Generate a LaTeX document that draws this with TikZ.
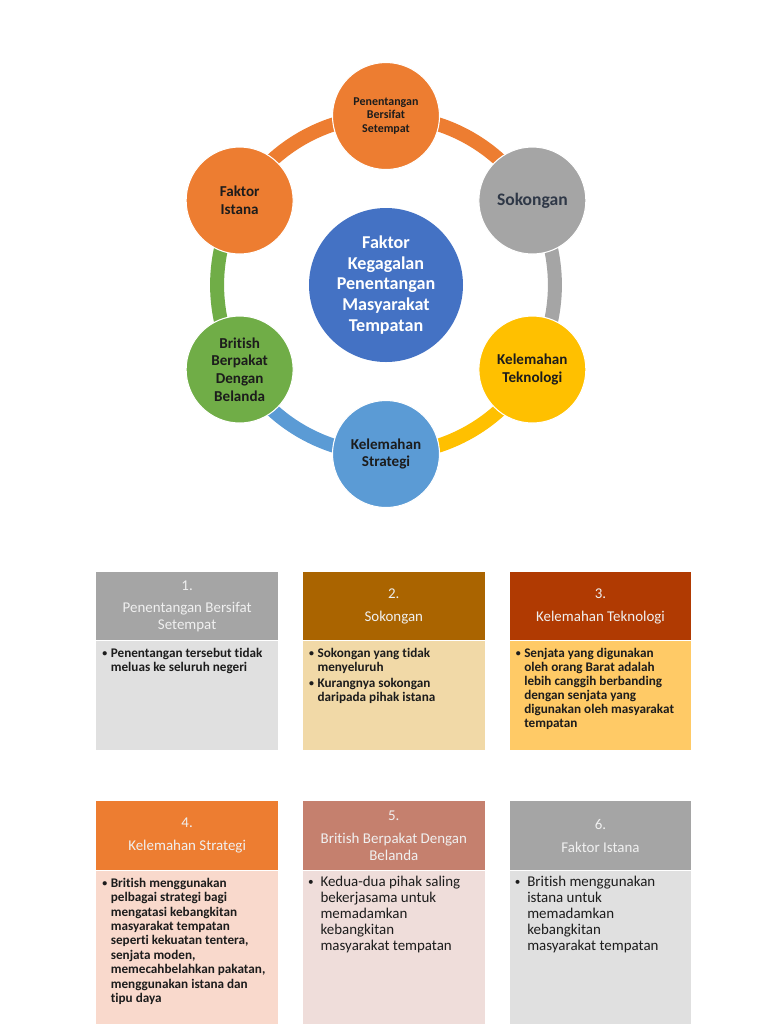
\documentclass[tikz,border=0pt]{standalone}
\usepackage{fontspec}
\setmainfont{Carlito}[Ligatures=NoCommon]
\usetikzlibrary{positioning,calc,backgrounds}
\definecolor{RingOrange}{HTML}{ED7D31}
\definecolor{RingGray}{HTML}{A5A5A5}
\definecolor{RingGold}{HTML}{FFC000}
\definecolor{RingBlue}{HTML}{5B9BD5}
\definecolor{RingGreen}{HTML}{70AD47}
\definecolor{HubBlue}{HTML}{4472C4}
\definecolor{InkDark}{HTML}{1C1C1C}
\definecolor{InkSlate}{HTML}{2F3847}
\definecolor{HeadGray}{HTML}{A5A5A5}
\definecolor{BodyGray}{HTML}{E0E0E0}
\definecolor{HeadBrown}{HTML}{AA6400}
\definecolor{BodyWheat}{HTML}{F1D9A7}
\definecolor{HeadRust}{HTML}{B03A02}
\definecolor{BodyGold}{HTML}{FFCA66}
\definecolor{HeadOrange}{HTML}{ED7D31}
\definecolor{BodyPeach}{HTML}{F9D9CC}
\definecolor{HeadRose}{HTML}{C5806E}
\definecolor{BodyRose}{HTML}{EFDDDA}
\newcommand{\bitem}{\makebox[1.7mm][l]{\raisebox{0.15ex}{\scalebox{0.75}{\textbullet}}}}
\newcommand{\bskip}{\hspace*{1.7mm}}
\newcommand{\pitem}{\makebox[2.5mm][l]{\raisebox{0.15ex}{\scalebox{0.75}{\textbullet}}}}
\newcommand{\pskip}{\hspace*{2.5mm}}

\begin{document}
\begin{tikzpicture}[node distance=4.9mm]
  \tikzstyle{bubble}=[circle,minimum size=21.4mm,inner sep=0pt,align=center,
    draw=white,line width=0.6pt,text=InkDark,
    font=\bfseries\fontsize{8.6}{10}\selectfont]
  \tikzstyle{hub}=[circle,fill=HubBlue,minimum size=30.8mm,inner sep=0pt,
    align=center,text=white,font=\bfseries\fontsize{10.3}{11.7}\selectfont]
  \tikzstyle{ring}=[line width=2.8mm,bend left=30,looseness=0.913]
  \tikzstyle{head}=[rectangle,minimum width=36.3mm,minimum height=13.6mm,
    inner sep=0pt,align=center,text=white!94!black,
    font=\fontsize{8.5}{9.6}\selectfont]
  \tikzstyle{body}=[rectangle,minimum width=36.3mm,inner sep=0pt]
  \tikzstyle{btext}=[inner sep=0pt,align=left,anchor=north west,text=InkDark,
    font=\bfseries\fontsize{7.5}{8}\selectfont]
  \tikzstyle{ptext}=[btext,font=\fontsize{8.5}{9.1}\selectfont]

  \useasboundingbox (0,0) rectangle (15.36,-20.48);

  % hub and the six factors
  \node[hub] (hub) at (7.72,-5.70) {Faktor\\Kegagalan\\Penentangan\\Masyarakat\\Tempatan};
  \node[bubble,fill=RingOrange,font=\bfseries\fontsize{6.8}{7.6}\selectfont]
    (pen) at ($(hub)+(90:3.38)$) {Penentangan\\Bersifat\\Setempat};
  \node[bubble,fill=RingGray,text=InkSlate,font=\bfseries\fontsize{10}{12}\selectfont]
    (sok) at ($(hub)+(30:3.38)$) {Sokongan};
  \node[bubble,fill=RingGold] (tek) at ($(hub)+(-30:3.38)$) {Kelemahan\\Teknologi};
  \node[bubble,fill=RingBlue] (strat) at ($(hub)+(-90:3.38)$) {Kelemahan\\Strategi};
  \node[bubble,fill=RingGreen] (brit) at ($(hub)+(-150:3.38)$) {British\\Berpakat\\Dengan\\Belanda};
  \node[bubble,fill=RingOrange] (ist) at ($(hub)+(150:3.38)$) {Faktor\\Istana};

  \begin{scope}[on background layer]
    \fill[white] (0,0) rectangle (15.36,-20.48);
    \draw[ring,RingOrange] (pen.center) to (sok.center);
    \draw[ring,RingGray] (sok.center) to (tek.center);
    \draw[ring,RingGold] (tek.center) to (strat.center);
    \draw[ring,RingBlue] (strat.center) to (brit.center);
    \draw[ring,RingGreen] (brit.center) to (ist.center);
    \draw[ring,RingOrange] (ist.center) to (pen.center);
  \end{scope}

  % first row of boxes
  \node[head,fill=HeadGray,anchor=north west] (h1) at (1.92,-11.44)
    {1.\\[3.4pt]Penentangan Bersifat\\Setempat};
  \node[head,fill=HeadBrown,right=of h1] (h2) {2.\\[3.4pt]Sokongan};
  \node[head,fill=HeadRust,right=of h2] (h3) {3.\\[3.4pt]Kelemahan Teknologi};
  \node[body,fill=BodyGray,minimum height=21.8mm,below=0pt of h1] (b1) {};
  \node[body,fill=BodyWheat,minimum height=21.8mm,below=0pt of h2] (b2) {};
  \node[body,fill=BodyGold,minimum height=21.8mm,below=0pt of h3] (b3) {};
  \node[btext] (t1) at ([xshift=1.2mm,yshift=-1.4mm]b1.north west)
    {\bitem Penentangan tersebut tidak\\ \bskip meluas ke seluruh negeri};
  \node[btext] (t2) at ([xshift=1.2mm,yshift=-1.4mm]b2.north west)
    {\bitem Sokongan yang tidak\\ \bskip menyeluruh\\[1.4pt]
     \bitem Kurangnya sokongan\\ \bskip daripada pihak istana};
  \node[btext] (t3) at ([xshift=1.2mm,yshift=-1.4mm]b3.north west)
    {\bitem Senjata yang digunakan\\ \bskip oleh orang Barat adalah\\
     \bskip lebih canggih berbanding\\ \bskip dengan senjata yang\\
     \bskip digunakan oleh masyarakat\\ \bskip tempatan};

  % second row of boxes
  \node[head,fill=HeadOrange,minimum height=13.8mm,anchor=north west] (h4) at (1.92,-16.02)
    {4.\\[3.4pt]Kelemahan Strategi};
  \node[head,fill=HeadRose,minimum height=13.8mm,right=of h4] (h5)
    {5.\\[3.4pt]British Berpakat Dengan\\Belanda};
  \node[head,fill=HeadGray,minimum height=13.8mm,right=of h5] (h6) {6.\\[3.4pt]Faktor Istana};
  \node[body,fill=BodyPeach,minimum height=30.8mm,below=0pt of h4] (b4) {};
  \node[body,fill=BodyRose,minimum height=30.8mm,below=0pt of h5] (b5) {};
  \node[body,fill=BodyGray,minimum height=30.8mm,below=0pt of h6] (b6) {};
  \node[btext,font=\bfseries\fontsize{7.5}{8.2}\selectfont] (t4)
    at ([xshift=1.2mm,yshift=-1.4mm]b4.north west)
    {\bitem British menggunakan\\ \bskip pelbagai strategi bagi\\
     \bskip mengatasi kebangkitan\\ \bskip masyarakat tempatan\\
     \bskip seperti kekuatan tentera,\\ \bskip senjata moden,\\
     \bskip memecahbelahkan pakatan,\\ \bskip menggunakan istana dan\\
     \bskip tipu daya};
  \node[ptext] (t5) at ([xshift=1mm,yshift=-1.1mm]b5.north west)
    {\pitem Kedua-dua pihak saling\\ \pskip bekerjasama untuk\\
     \pskip memadamkan\\ \pskip kebangkitan\\ \pskip masyarakat tempatan};
  \node[ptext] (t6) at ([xshift=1mm,yshift=-1.1mm]b6.north west)
    {\pitem British menggunakan\\ \pskip istana untuk\\
     \pskip memadamkan\\ \pskip kebangkitan\\ \pskip masyarakat tempatan};
\end{tikzpicture}
\end{document}
